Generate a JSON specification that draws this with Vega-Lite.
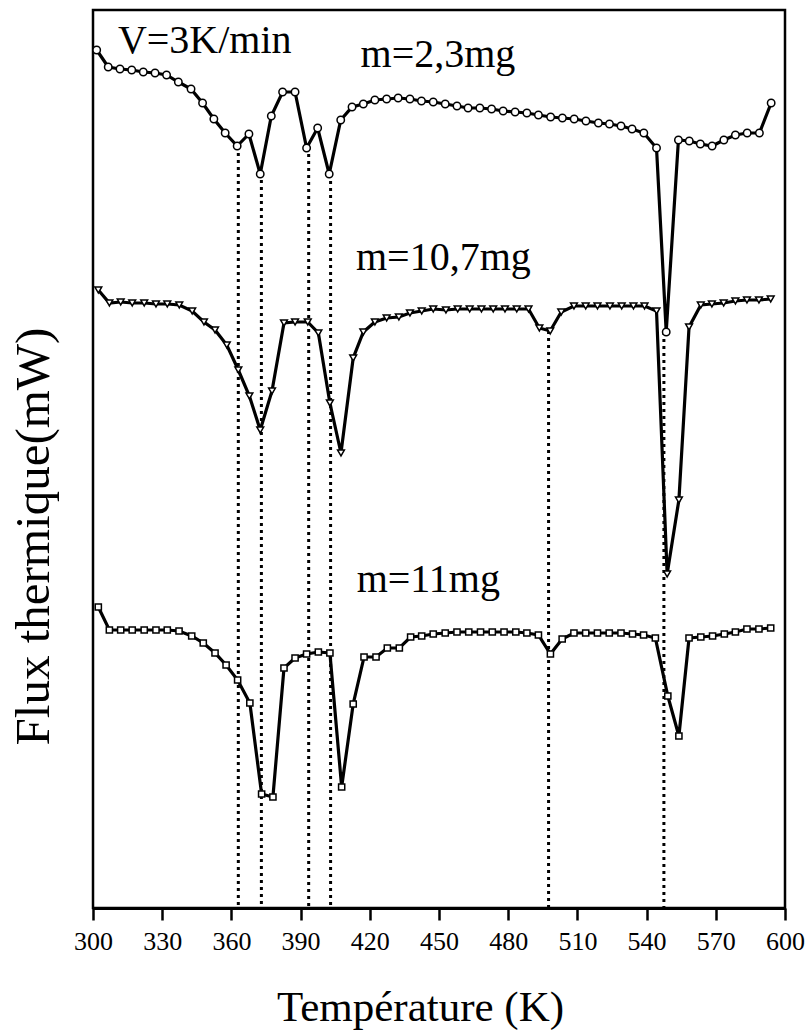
{
 "$schema": "https://vega.github.io/schema/vega-lite/v6.json",
 "width": 692, "height": 898,
 "autosize": "none",
 "padding": {"left": 93, "top": 10, "right": 24, "bottom": 125},
 "background": "white",
 "config": {"view": {"stroke": "black", "strokeWidth": 2.5}, "font": "Liberation Serif"},
 "datasets": {
  "curves": [
   {"s":"a","T":301.6,"F":858},{"s":"a","T":306.6,"F":841},{"s":"a","T":311.7,"F":839},{"s":"a","T":316.8,"F":838},{"s":"a","T":321.8,"F":836},{"s":"a","T":326.9,"F":835},{"s":"a","T":331.9,"F":833},{"s":"a","T":337,"F":826},{"s":"a","T":342.5,"F":819},{"s":"a","T":347.5,"F":805},{"s":"a","T":352.4,"F":789},{"s":"a","T":357.3,"F":775},{"s":"a","T":362.5,"F":762},{"s":"a","T":367.6,"F":774},{"s":"a","T":372.5,"F":734},{"s":"a","T":377.3,"F":792},{"s":"a","T":382.2,"F":816},{"s":"a","T":387.6,"F":816},{"s":"a","T":392.6,"F":760},{"s":"a","T":397.4,"F":780},{"s":"a","T":402.4,"F":734},{"s":"a","T":407.4,"F":788},{"s":"a","T":412.3,"F":801},{"s":"a","T":417.2,"F":804},{"s":"a","T":422.2,"F":808},{"s":"a","T":427.3,"F":809},{"s":"a","T":432.3,"F":810},{"s":"a","T":437.4,"F":809},{"s":"a","T":442.4,"F":807},{"s":"a","T":447.5,"F":806},{"s":"a","T":452.7,"F":804},{"s":"a","T":457.8,"F":802},{"s":"a","T":462.6,"F":800},{"s":"a","T":467.7,"F":800},{"s":"a","T":472.8,"F":799},{"s":"a","T":477.8,"F":797},{"s":"a","T":483,"F":796},{"s":"a","T":488.1,"F":795},{"s":"a","T":493.1,"F":793},{"s":"a","T":498.4,"F":791},{"s":"a","T":503.5,"F":790},{"s":"a","T":508.6,"F":789},{"s":"a","T":513.7,"F":787},{"s":"a","T":519.1,"F":785},{"s":"a","T":523.9,"F":784},{"s":"a","T":528.9,"F":782},{"s":"a","T":533.7,"F":779},{"s":"a","T":538.8,"F":775},{"s":"a","T":544.3,"F":760},{"s":"a","T":548.5,"F":576},{"s":"a","T":553.8,"F":768},{"s":"a","T":558.5,"F":767},{"s":"a","T":563.3,"F":764},{"s":"a","T":568.4,"F":762},{"s":"a","T":573.5,"F":768},{"s":"a","T":578.5,"F":773},{"s":"a","T":583.6,"F":775},{"s":"a","T":588.9,"F":775},{"s":"a","T":594,"F":805},
   {"s":"b","T":302.3,"F":618},{"s":"b","T":307.1,"F":605},{"s":"b","T":312,"F":606},{"s":"b","T":317,"F":605},{"s":"b","T":322.2,"F":605},{"s":"b","T":327.3,"F":604},{"s":"b","T":332.2,"F":604},{"s":"b","T":337.4,"F":603},{"s":"b","T":343,"F":597},{"s":"b","T":348.1,"F":586},{"s":"b","T":352.9,"F":578},{"s":"b","T":358,"F":563},{"s":"b","T":363,"F":538},{"s":"b","T":367.8,"F":512},{"s":"b","T":372.5,"F":478},{"s":"b","T":377.6,"F":517},{"s":"b","T":382.8,"F":585},{"s":"b","T":387.6,"F":586},{"s":"b","T":393.1,"F":586},{"s":"b","T":397.7,"F":575},{"s":"b","T":402.7,"F":505},{"s":"b","T":407.5,"F":455},{"s":"b","T":412.8,"F":550},{"s":"b","T":417.2,"F":576},{"s":"b","T":422.2,"F":586},{"s":"b","T":427.3,"F":590},{"s":"b","T":432.6,"F":591},{"s":"b","T":437.4,"F":595},{"s":"b","T":442.5,"F":597},{"s":"b","T":447.5,"F":599},{"s":"b","T":453,"F":598},{"s":"b","T":458.1,"F":599},{"s":"b","T":463.3,"F":599},{"s":"b","T":468.4,"F":599},{"s":"b","T":473.5,"F":599},{"s":"b","T":478.6,"F":599},{"s":"b","T":483.7,"F":599},{"s":"b","T":488.8,"F":599},{"s":"b","T":493.5,"F":580},{"s":"b","T":498.2,"F":577},{"s":"b","T":503,"F":596},{"s":"b","T":508.5,"F":602},{"s":"b","T":513.6,"F":602},{"s":"b","T":518.7,"F":602},{"s":"b","T":524.1,"F":602},{"s":"b","T":529.2,"F":602},{"s":"b","T":534.3,"F":602},{"s":"b","T":539.1,"F":602},{"s":"b","T":544.3,"F":597},{"s":"b","T":548.9,"F":334},{"s":"b","T":554,"F":408},{"s":"b","T":558.4,"F":581},{"s":"b","T":563.5,"F":603},{"s":"b","T":568.3,"F":604},{"s":"b","T":573.4,"F":605},{"s":"b","T":578.5,"F":607},{"s":"b","T":583.5,"F":608},{"s":"b","T":588.7,"F":608},{"s":"b","T":593.8,"F":609},
   {"s":"c","T":302.3,"F":301},{"s":"c","T":307.1,"F":278},{"s":"c","T":312,"F":278},{"s":"c","T":317,"F":278},{"s":"c","T":322.2,"F":278},{"s":"c","T":327.3,"F":278},{"s":"c","T":332.2,"F":278},{"s":"c","T":337.3,"F":277},{"s":"c","T":342.8,"F":272},{"s":"c","T":347.8,"F":265},{"s":"c","T":352.9,"F":255},{"s":"c","T":357.7,"F":243},{"s":"c","T":362.7,"F":228},{"s":"c","T":368,"F":205},{"s":"c","T":373.1,"F":114},{"s":"c","T":378,"F":111},{"s":"c","T":382.8,"F":240},{"s":"c","T":387.6,"F":250},{"s":"c","T":392.6,"F":254},{"s":"c","T":397.7,"F":256},{"s":"c","T":402.7,"F":255},{"s":"c","T":407.8,"F":121},{"s":"c","T":412.8,"F":204},{"s":"c","T":417.5,"F":251},{"s":"c","T":422.7,"F":251},{"s":"c","T":427.6,"F":260},{"s":"c","T":432.8,"F":260},{"s":"c","T":437.7,"F":271},{"s":"c","T":442.5,"F":272},{"s":"c","T":447.5,"F":274},{"s":"c","T":452.7,"F":275},{"s":"c","T":457.8,"F":276},{"s":"c","T":462.9,"F":276},{"s":"c","T":468,"F":276},{"s":"c","T":473.1,"F":276},{"s":"c","T":478.2,"F":276},{"s":"c","T":483.3,"F":276},{"s":"c","T":488.1,"F":275},{"s":"c","T":493.1,"F":273},{"s":"c","T":498.3,"F":254},{"s":"c","T":503.4,"F":269},{"s":"c","T":508.5,"F":275},{"s":"c","T":513.6,"F":275},{"s":"c","T":518.7,"F":275},{"s":"c","T":523.8,"F":275},{"s":"c","T":528.9,"F":275},{"s":"c","T":533.9,"F":274},{"s":"c","T":538.7,"F":273},{"s":"c","T":543.8,"F":270},{"s":"c","T":549.2,"F":212},{"s":"c","T":554,"F":172},{"s":"c","T":558.4,"F":270},{"s":"c","T":563.5,"F":271},{"s":"c","T":568.6,"F":272},{"s":"c","T":573.7,"F":274},{"s":"c","T":578.5,"F":276},{"s":"c","T":583.5,"F":279},{"s":"c","T":588.7,"F":279},{"s":"c","T":593.8,"F":280}
  ],
  "marks": [
   {"T":363,"top":762,"base":0},{"T":373,"top":735,"base":0},{"T":393.5,"top":761,"base":0},{"T":403,"top":734,"base":0},{"T":497.5,"top":577,"base":0},{"T":547.5,"top":576,"base":0}
  ],
  "labels": [
   {"label":"V=3K/min","T":310.8,"F":855},
   {"label":"m=2,3mg","T":416,"F":841},
   {"label":"m=10,7mg","T":414,"F":638},
   {"label":"m=11mg","T":414.3,"F":316}
  ]
 },
 "layer": [
  {
   "data": {"name": "marks"},
   "mark": {"type": "rule", "color": "black", "strokeWidth": 3, "strokeDash": [3, 4]},
   "encoding": {
    "x": {"field": "T", "type": "quantitative",
     "scale": {"domain": [300, 600], "nice": false, "zero": false},
     "axis": {
      "values": [300,315,330,345,360,375,390,405,420,435,450,465,480,495,510,525,540,555,570,585,600],
      "labelExpr": "datum.value % 30 === 0 ? datum.label : ''",
      "tickSize": {"condition": {"test": "datum.value % 30 === 0", "value": 12}, "value": 6},
      "tickWidth": 2.5, "tickColor": "black", "domainColor": "black", "domainWidth": 3,
      "labelFontSize": 26, "labelColor": "black", "labelPadding": 8, "labelFlush": false, "labelOverlap": false,
      "grid": false,
      "title": "Température (K)", "titleFontSize": 43, "titleFontWeight": "normal", "titleColor": "black",
      "titleX": 327, "titleY": 112, "titleBaseline": "alphabetic"
     }},
    "y": {"field": "top", "type": "quantitative",
     "scale": {"domain": [0, 898], "nice": false, "zero": false},
     "axis": {"title": "Flux thermique(mW)", "labels": false, "ticks": false, "domain": false, "grid": false,
      "titleFontSize": 49, "titleFontWeight": "normal", "titleColor": "black",
      "titleX": -45, "titleY": 526, "titleAngle": -90, "titleBaseline": "alphabetic", "titleAlign": "center"}},
    "y2": {"field": "base"}
   }
  },
  {
   "data": {"name": "curves"},
   "mark": {"type": "line", "color": "black"},
   "encoding": {
    "x": {"field": "T", "type": "quantitative"},
    "y": {"field": "F", "type": "quantitative"},
    "detail": {"field": "s", "type": "nominal"},
    "strokeWidth": {"field": "s", "type": "nominal", "scale": {"domain": ["a","b","c"], "range": [3.2, 3.2, 2.4]}, "legend": null}
   }
  },
  {
   "data": {"name": "curves"},
   "mark": {"type": "point", "filled": false, "fill": "white", "fillOpacity": 1, "stroke": "black", "strokeWidth": 1.5, "opacity": 1},
   "encoding": {
    "x": {"field": "T", "type": "quantitative"},
    "y": {"field": "F", "type": "quantitative"},
    "shape": {"field": "s", "type": "nominal", "scale": {"domain": ["a","b","c"], "range": ["circle", "triangle-down", "square"]}, "legend": null},
    "size": {"field": "s", "type": "nominal", "scale": {"domain": ["a","b","c"], "range": [55, 38, 30]}, "legend": null}
   }
  },
  {
   "data": {"name": "labels"},
   "mark": {"type": "text", "align": "left", "baseline": "alphabetic", "fontSize": 40, "font": "Liberation Serif", "color": "black"},
   "encoding": {
    "x": {"field": "T", "type": "quantitative"},
    "y": {"field": "F", "type": "quantitative"},
    "text": {"field": "label", "type": "nominal"}
   }
  }
 ]
}
